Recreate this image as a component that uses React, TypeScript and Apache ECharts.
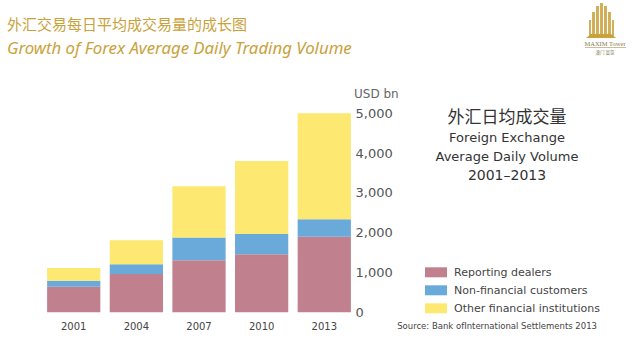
import React, { useEffect, useRef } from "react";
import * as echarts from "echarts";

const categories = ["2001", "2004", "2007", "2010", "2013"];
const reportingDealers = [640, 960, 1310, 1460, 1900];
const nonFinancialCustomers = [150, 250, 570, 510, 440];
const otherFinancialInstitutions = [320, 600, 1290, 1830, 2660];
const seriesNames = ["Reporting dealers", "Non-financial customers", "Other financial institutions"];
const colors = ["#c0808e", "#6aaadb", "#fde872"];

const GOLD = "#c9a23c";

export default function App() {
  const ref = useRef<HTMLDivElement>(null);
  useEffect(() => {
    if (!ref.current) return;
    const chart = echarts.init(ref.current, null, { renderer: "svg" });
    const logoBars = [
      [596, 6, 3, 30], [600, 3, 3, 33], [604, 6, 3, 30], [592, 12, 3, 24], [608, 12, 3, 24],
      [589, 20, 2, 16], [612, 20, 2, 16],
    ];
    chart.setOption({
      animation: false,
      backgroundColor: "#ffffff",
      color: colors,
      grid: { left: 42.4, right: 282.4, top: 113.3, bottom: 46.7, containLabel: false },
      legend: {
        orient: "vertical",
        left: 425,
        top: 266.3,
        padding: 0,
        itemWidth: 22,
        itemHeight: 10,
        itemGap: 6,
        icon: "rect",
        data: seriesNames,
        textStyle: { fontFamily: "DejaVu Sans", fontSize: 11, lineHeight: 12, color: "#444", padding: [0, 0, 0, 2] },
      },
      xAxis: {
        type: "category",
        data: categories,
        axisLine: { show: false },
        axisTick: { show: false },
        axisLabel: { margin: 9, fontFamily: "DejaVu Sans", fontSize: 10, color: "#444" },
      },
      yAxis: {
        type: "value",
        position: "right",
        min: 0,
        max: 5000,
        interval: 1000,
        splitLine: { show: false },
        axisLine: { show: false },
        axisTick: { show: false },
        axisLabel: {
          margin: 0,
          fontFamily: "DejaVu Sans",
          fontSize: 13,
          color: "#555",
          formatter: (v: number) => v.toLocaleString("en-US"),
        },
      },
      series: [
        { name: seriesNames[0], type: "bar", stack: "total", data: reportingDealers, barCategoryGap: "15%" },
        { name: seriesNames[1], type: "bar", stack: "total", data: nonFinancialCustomers, barCategoryGap: "15%" },
        { name: seriesNames[2], type: "bar", stack: "total", data: otherFinancialInstitutions, barCategoryGap: "15%" },
      ],
      graphic: [
        {
          type: "text",
          x: 7,
          y: 23,
          style: {
            text: "外汇交易每日平均成交易量的成长图",
            font: '15px "Noto Sans CJK SC"',
            fill: GOLD,
            verticalAlign: "middle",
          },
        },
        {
          type: "text",
          x: 7,
          y: 47,
          style: {
            text: "Growth of Forex Average Daily Trading Volume",
            font: 'italic 16.8px "Noto Sans"',
            fill: GOLD,
            verticalAlign: "middle",
          },
        },
        {
          type: "text",
          x: 354,
          y: 94,
          style: { text: "USD bn", font: '12px "DejaVu Sans"', fill: "#666", verticalAlign: "middle" },
        },
        {
          type: "text",
          x: 507,
          y: 115,
          style: {
            text: "外汇日均成交量",
            font: '17px "Noto Sans CJK SC"',
            fill: "#333",
            align: "center",
            verticalAlign: "middle",
          },
        },
        {
          type: "text",
          x: 507,
          y: 137,
          style: { text: "Foreign Exchange", font: '13px "DejaVu Sans"', fill: "#333", align: "center", verticalAlign: "middle" },
        },
        {
          type: "text",
          x: 507,
          y: 156,
          style: { text: "Average Daily Volume", font: '13px "DejaVu Sans"', fill: "#333", align: "center", verticalAlign: "middle" },
        },
        {
          type: "text",
          x: 507,
          y: 175,
          style: { text: "2001–2013", font: '14px "DejaVu Sans"', fill: "#333", align: "center", verticalAlign: "middle" },
        },
        {
          type: "text",
          x: 597,
          y: 326,
          style: {
            text: "Source: Bank ofInternational Settlements 2013",
            font: '8.5px "DejaVu Sans"',
            fill: "#444",
            align: "right",
            verticalAlign: "middle",
          },
        },
        {
          type: "group",
          children: [
            ...logoBars.map(([x, y, w, h]) => ({
              type: "rect",
              shape: { x, y, width: w, height: h },
              style: { fill: GOLD, opacity: 0.85 },
            })),
            {
              type: "polygon",
              shape: { points: [[586, 38], [616, 38], [611, 34], [591, 34]] },
              style: { fill: GOLD },
            },
            {
              type: "text",
              x: 605,
              y: 43,
              style: { text: "MAXIM Tower", font: '6.5px "Liberation Serif"', fill: "#8a7a50", align: "center", verticalAlign: "middle" },
            },
            {
              type: "rect",
              shape: { x: 585, y: 47, width: 41, height: 0.8 },
              style: { fill: "#b8a878" },
            },
            {
              type: "text",
              x: 605,
              y: 52,
              style: { text: "澳门 富豪", font: '4.5px "Noto Sans CJK SC"', fill: "#8a7a50", align: "center", verticalAlign: "middle" },
            },
          ],
        },
      ],
    });
    return () => chart.dispose();
  }, []);
  return (
    <div
      ref={ref}
      style={{ position: "fixed", left: 0, top: 0, width: 638, height: 359, background: "#fff" }}
    />
  );
}
